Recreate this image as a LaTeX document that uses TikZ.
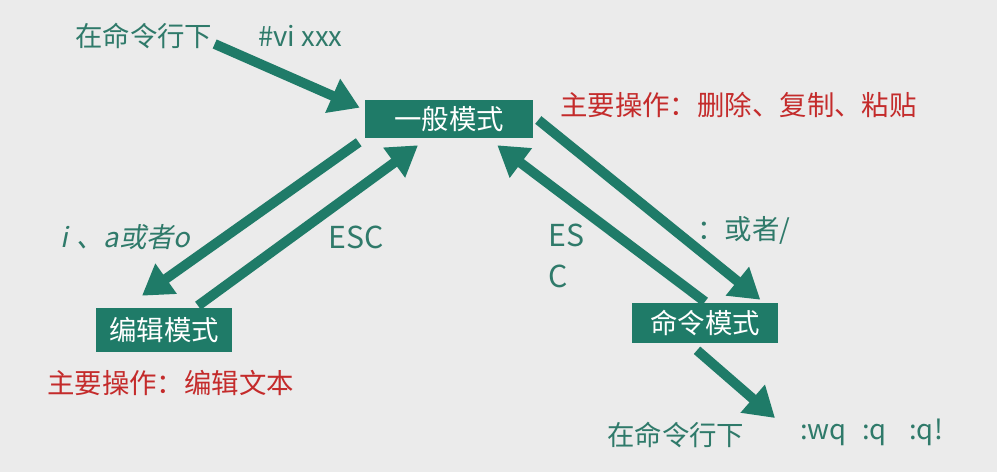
\documentclass[tikz,border=0pt]{standalone}
\usepackage{fontspec}
\setmainfont{Noto Sans CJK SC}
\newfontfamily\slantfont[FakeSlant=0.2]{Noto Sans CJK SC}
\usepackage{xcolor}
\usepackage{tikz}
\usetikzlibrary{arrows.meta,calc,positioning}

\definecolor{modeteal}{HTML}{1F7B68}
\definecolor{labelgreen}{HTML}{2F7A6A}
\definecolor{noteRed}{HTML}{C42B2B}
\definecolor{slidegray}{HTML}{EBEBEB}

\begin{document}
\begin{tikzpicture}[
    x=0.025cm, y=-0.025cm,
    every node/.style={font=\fontsize{19.5}{22}\selectfont, inner sep=0pt},
    mode/.style={fill=modeteal, text=white},
    hint/.style={text=labelgreen, anchor=west},
    note/.style={text=noteRed, anchor=west},
    keyname/.style={hint, font=\fontsize{21.5}{24}\selectfont},
    flow/.style={draw=modeteal, line width=7pt, -{Triangle[length=21pt,width=25pt]}},
]
\useasboundingbox (0,0) rectangle (997,472);
\fill [slidegray] (0,0) rectangle (997,472);

% the three modes
\node [mode, minimum width=4.2cm, minimum height=0.95cm] (normal) at (449,119) {一般模式};
\node [mode, minimum width=3.4cm, minimum height=1.1cm] (edit) at (164,330) {编辑模式};
\node [mode, minimum width=3.65cm, minimum height=1cm] (command) at (705,323) {命令模式};

% labels
\node [hint] (cmdline1) at (75,36) {在命令行下};
\node [hint] (vi) at (258,36) {\#vi xxx};
\node [note] (normalnote) at (560,105) {主要操作：删除、复制、粘贴};
\node [hint] (insertkeys) at (60,237) {\slantfont i\hspace{6pt}、a或者o};
\node [keyname] (esc1) at (328,237) {ESC};
\node [keyname] (esc2a) at (548,235) {ES};
\node [keyname] (esc2b) at (548,276) {C};
\node [hint] (colon) at (697,230) {：或者/};
\node [note] (editnote) at (47,383) {主要操作：编辑文本};
\node [hint] (cmdline2) at (607,435) {在命令行下};
\node [hint] (quitkeys) at (800,432) {:wq\hspace{11pt}:q\hspace{16pt}:q!};
\coordinate (exit) at (775,418);

% arrows
\draw [flow] ($(cmdline1.east)+(2,8)$) -- ($(normal.north west)+(-5,8)$);
\draw [flow] ($(normal.south west)+(-6,4)$) -- ($(edit.north)+(-22,-12)$);
\draw [flow] ($(edit.north)+(34,-2)$) -- ($(normal.south)+(-31,7)$);
\draw [flow] ($(command.north)+(0,-1)$) -- ($(normal.south east)+(-36,7)$);
\draw [flow] ($(normal.east)+(5,1)$) -- ($(command.north east)+(-18,-3)$);
\draw [flow] ($(command.south)+(-8,7)$) -- (exit);
\end{tikzpicture}
\end{document}
